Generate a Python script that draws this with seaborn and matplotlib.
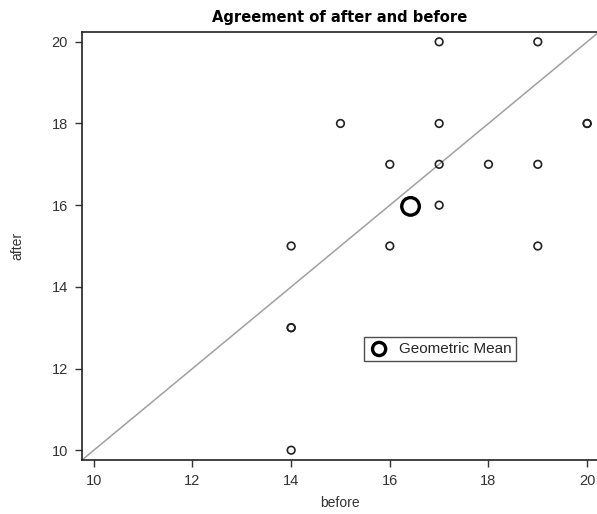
import matplotlib
matplotlib.use("Agg")
import matplotlib.pyplot as plt
import seaborn as sns
import pandas as pd

before = [14, 14, 14, 14, 15, 16, 16, 17, 17, 17, 17, 18, 19, 19, 19, 20, 20]
after = [15, 13, 13, 10, 18, 17, 15, 20, 18, 17, 16, 17, 20, 17, 15, 18, 18]
gm_before = [16.42]
gm_after = [15.97]
ticks = [10, 12, 14, 16, 18, 20]

sns.set_theme(style="white")
plt.rcParams['font.family'] = ['Liberation Sans', 'DejaVu Sans']

df = pd.DataFrame({"before": before, "after": after})
gm = pd.DataFrame({"before": gm_before, "after": gm_after})

fig = plt.figure(figsize=(5.97, 5.14), dpi=100)
ax = fig.add_axes([82/597, 54/514, 1 - 82/597, 428/514])

lo, hi = 9.76, 20.24
ax.plot([lo, hi], [lo, hi], color="#a0a0a0", lw=1.1, zorder=1)

sns.scatterplot(data=df, x="before", y="after", ax=ax, marker="o", s=30,
                facecolor="none", edgecolor="#222222", linewidth=1.2, zorder=3)
sns.scatterplot(data=gm, x="before", y="after", ax=ax, marker="o", s=160,
                facecolor="none", edgecolor="black", linewidth=2.4, zorder=4,
                label="Geometric Mean")

ax.set_xlim(lo, 20.2)
ax.set_ylim(lo, hi)
ax.set_xticks(ticks)
ax.set_yticks(ticks)
ax.tick_params(axis="both", which="both", direction="out", length=5, width=1,
               color="#333333", labelsize=10.5, labelcolor="#333333",
               bottom=True, left=True, pad=5)
for side in ["left", "bottom", "top"]:
    ax.spines[side].set_color("#222222")
    ax.spines[side].set_linewidth(1.2)
ax.spines["right"].set_visible(False)

ax.set_xlabel("before", fontsize=10, color="#333333", labelpad=6)
ax.set_ylabel("after", fontsize=10, color="#333333", labelpad=20)
ax.set_title("Agreement of after and before", fontsize=10.6, fontweight="bold",
             family=["DejaVu Sans"], color="black", pad=7)

leg = ax.legend(loc="center", bbox_to_anchor=((440 - 82) / 515, (514 - 349 - 54) / 428),
                frameon=True, fancybox=False, fontsize=11, handletextpad=0.6,
                borderpad=0.3, handlelength=1.4, borderaxespad=0, markerscale=0.75)
leg.get_frame().set_edgecolor("#222222")
leg.get_frame().set_linewidth(1.0)

fig.savefig("out.png", dpi=100)
